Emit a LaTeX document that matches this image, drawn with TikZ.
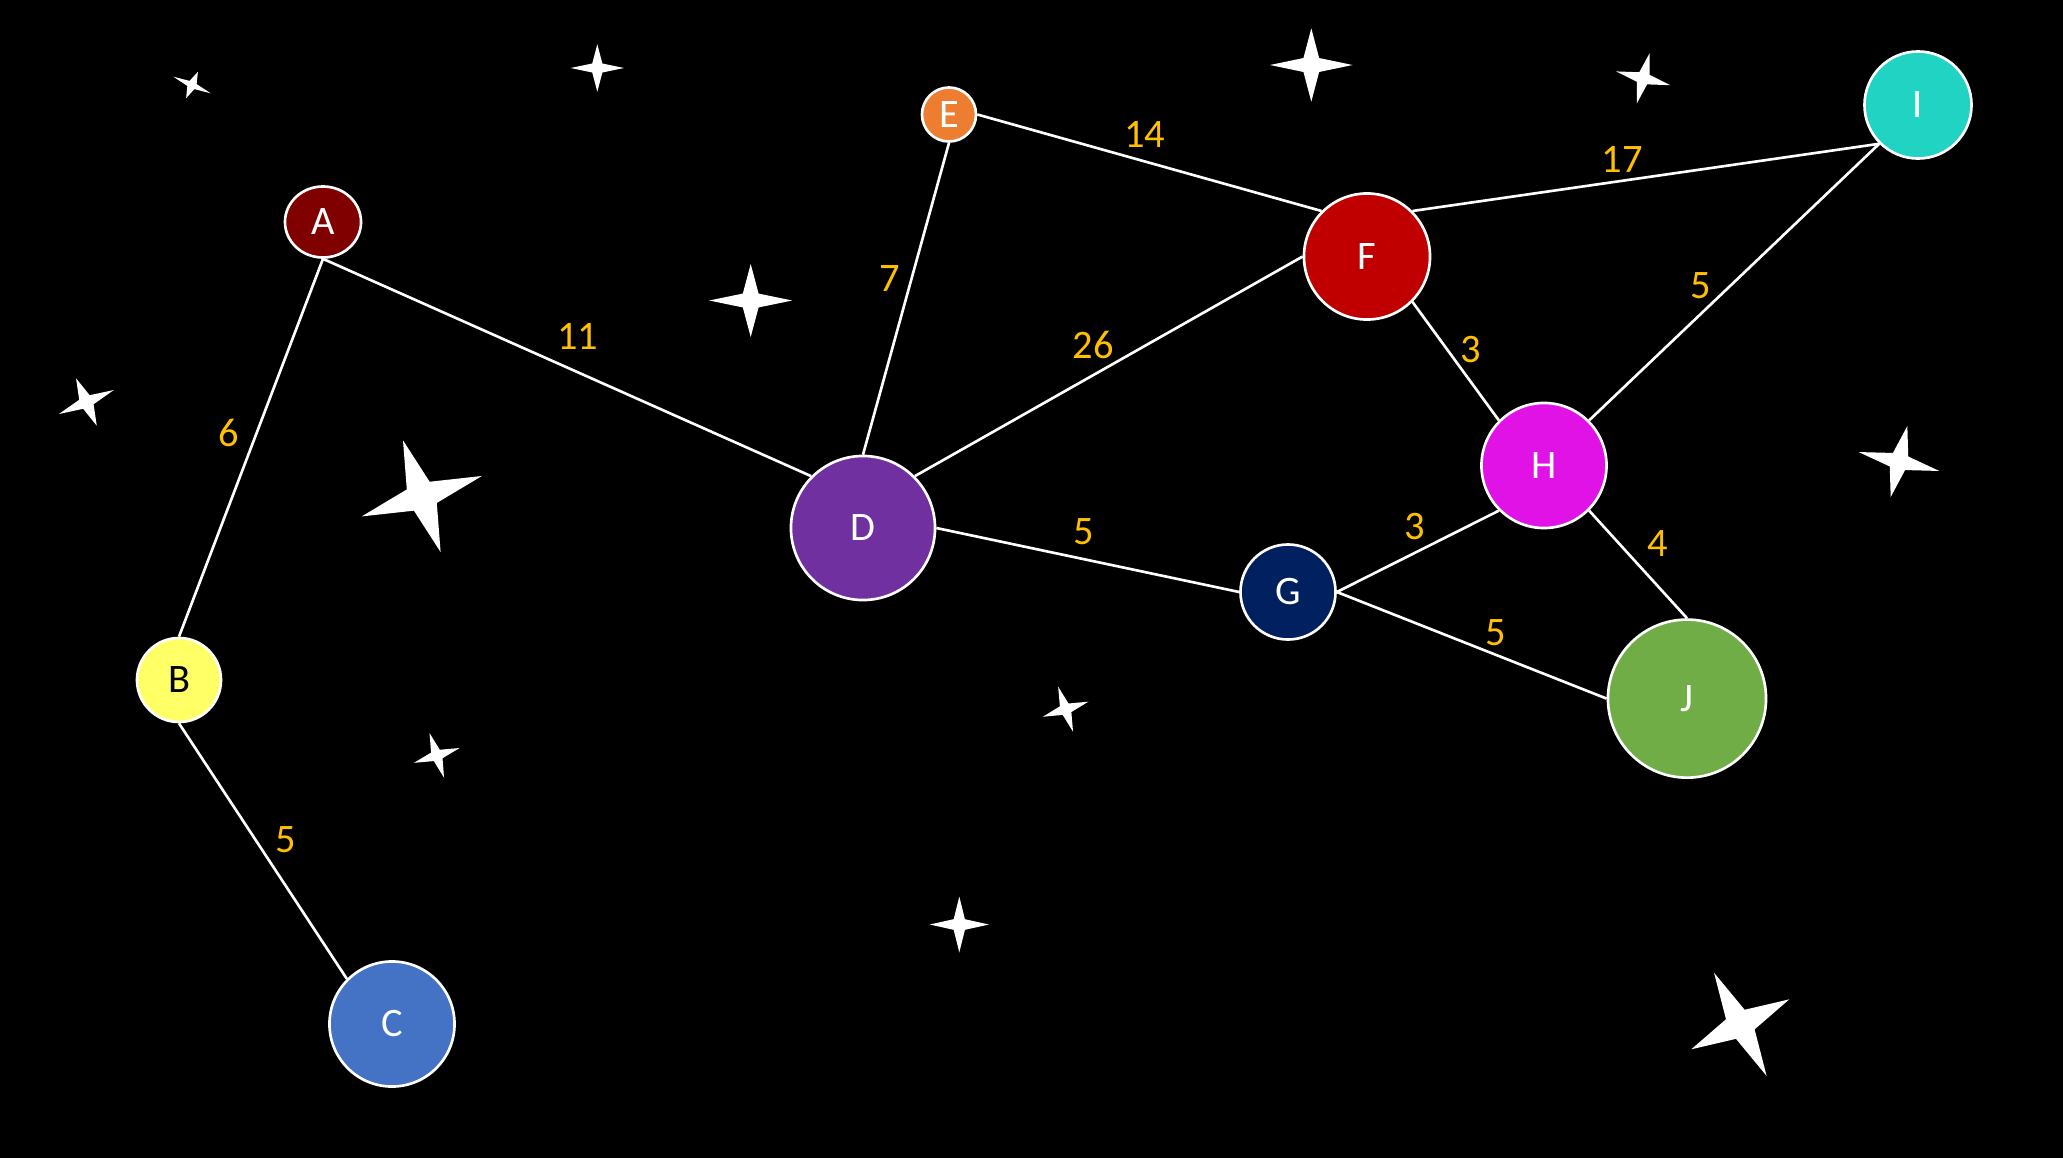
\documentclass[tikz,border=0pt]{standalone}
\usepackage{fontspec}
\usetikzlibrary{shapes.geometric}
\setmainfont{Carlito}
\definecolor{cA}{HTML}{800000}
\definecolor{cB}{HTML}{FFFF66}
\definecolor{cC}{HTML}{4472C4}
\definecolor{cD}{HTML}{7030A0}
\definecolor{cE}{HTML}{ED7D31}
\definecolor{cF}{HTML}{C00000}
\definecolor{cG}{HTML}{002060}
\definecolor{cH}{HTML}{E012E6}
\definecolor{cI}{HTML}{20D3C3}
\definecolor{cJ}{HTML}{70AD47}
\definecolor{lab}{HTML}{FFC000}
\newcommand\fstar[5]{\fill[white,shift={(#1,#2)},rotate=#5] (0,-#3) -- ({0.19*#4},{-0.19*#3}) -- (#4,0) -- ({0.19*#4},{0.19*#3}) -- (0,#3) -- ({-0.19*#4},{0.19*#3}) -- (-#4,0) -- ({-0.19*#4},{-0.19*#3}) -- cycle;}
\tikzset{
  vtx/.style={circle,draw=white,line width=0.75pt,inner sep=0pt,text=white,font=\fontsize{11.5}{13.5}\selectfont},
  wlabel/.style={text=lab,inner sep=0pt,font=\fontsize{11.5}{13.5}\selectfont},
  edge/.style={draw=white,line width=0.75pt}
}
\begin{document}
\begin{tikzpicture}[x=0.01cm,y=-0.01cm]
\useasboundingbox (0,0) rectangle (2063,1157);
\fill[black] (-10,-10) rectangle (2073,1167);
% stars
\fstar{192}{85}{14.5}{20.4}{-24}
\fstar{597.3}{68}{23.8}{26.7}{0}
\fstar{750.7}{300.5}{36.5}{41.5}{0}
\fstar{1311.3}{65}{36.7}{41.3}{0}
\fstar{1643.2}{78.3}{25.8}{27.9}{-14.3}
\fstar{86.4}{402}{25.9}{30}{23.6}
\fstar{421.8}{496.2}{59}{63.4}{18.6}
\fstar{1899}{461.5}{36.5}{41.4}{-13.2}
\fstar{1065.6}{709.2}{23.7}{24}{18.3}
\fstar{436.8}{755.4}{23.5}{24}{18}
\fstar{959.3}{924.5}{28}{29.5}{0}
\fstar{1740.3}{1024.3}{57.9}{55}{27}
% nodes
\node[vtx,ellipse,minimum width=0.76cm,minimum height=0.71cm,fill=cA] (A) at (323,222) {A};
\node[vtx,minimum size=0.84cm,fill=cB,text=black] (B) at (179,680) {B};
\node[vtx,minimum size=1.25cm,fill=cC] (C) at (392,1024) {C};
\node[vtx,minimum size=1.44cm,fill=cD] (D) at (863,528) {D};
\node[vtx,minimum size=0.54cm,fill=cE] (E) at (949,114.5) {E};
\node[vtx,minimum size=1.26cm,fill=cF] (F) at (1367,256.5) {F};
\node[vtx,minimum size=0.95cm,fill=cG] (G) at (1288,592) {G};
\node[vtx,minimum size=1.25cm,fill=cH] (H) at (1544,465.5) {H};
\node[vtx,minimum size=1.07cm,fill=cI] (I) at (1918,105) {I};
\node[vtx,minimum size=1.58cm,fill=cJ] (J) at (1687,698.6) {J};
% edges
\draw[edge] (A.south) -- (B.north);
\draw[edge] (A.south) -- (D.north west);
\draw[edge] (B.south) -- (C.north west);
\draw[edge] (D.north) -- (E.south);
\draw[edge] (E.east) -- (F.north west);
\draw[edge] (D.north east) -- (F.west);
\draw[edge] (F.north east) -- (I.south west);
\draw[edge] (F.south east) -- (H.north west);
\draw[edge] (H.north east) -- (I.south west);
\draw[edge] (D.east) -- (G.west);
\draw[edge] (G.east) -- (H.south west);
\draw[edge] (G.east) -- (J.west);
\draw[edge] (H.south east) -- (J.north);
% labels
\node[wlabel] (l1) at (228.9,432.9) {6};
\node[wlabel] (l2) at (577.6,336.8) {11};
\node[wlabel] (l3) at (285.5,839.4) {5};
\node[wlabel] (l4) at (889.4,278.9) {7};
\node[wlabel] (l5) at (1144.7,134.5) {14};
\node[wlabel] (l6) at (1093.3,344.7) {26};
\node[wlabel] (l7) at (1622.3,159.2) {17};
\node[wlabel] (l8) at (1470.9,350) {3};
\node[wlabel] (l9) at (1701.2,285.5) {5};
\node[wlabel] (l10) at (1084.1,531.5) {5};
\node[wlabel] (l11) at (1414.4,526.3) {3};
\node[wlabel] (l12) at (1496,632.9) {5};
\node[wlabel] (l13) at (1657.8,543.4) {4};
\end{tikzpicture}
\end{document}
